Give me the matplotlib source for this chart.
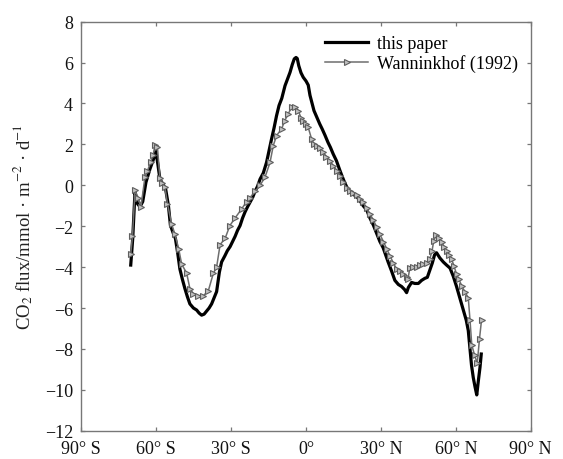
import matplotlib
matplotlib.use("Agg")
import matplotlib.pyplot as plt

# "this paper" curve
lat_this = [-70.2, -69.4, -68.5, -67.5, -66.5, -65.4, -64.1, -62.5, -61.3, -60.1,
            -59.3, -58.5, -57.3, -56.2, -55.1, -54.3, -53.3, -52.3, -51.4, -50.5,
            -49.5, -48.5, -47.5, -46.5, -45.1, -43.8, -42.8, -41.8, -40.8, -39.8,
            -38.8, -37.8, -36.8, -35.8, -34.7, -33.8, -32.5, -31.5, -30.4, -29.4,
            -28.4, -27.4, -26.4, -25.4, -24.4, -23.4, -22.4, -21.4, -20.4, -19.4,
            -18.4, -17.1, -15.8, -14.8, -13.8, -12.8, -11.8, -10.8, -9.7, -8.4,
            -7.4, -6.4, -5.5, -4.7, -4.0, -3.5, -2.9, -2.0, -1.1, 0.0,
            0.9, 1.6, 2.25, 3.2, 4.26, 5.5, 6.5, 7.6, 8.8, 9.8,
            10.9, 12.2, 13.6, 14.6, 15.6, 16.6, 17.6, 19.0, 20.3, 21.6,
            22.9, 24.3, 25.6, 27.0, 28.3, 29.6, 30.9, 31.6, 32.9, 34.3,
            35.6, 37.0, 38.3, 39.5, 40.3, 41.0, 42.3, 43.6, 45.0, 46.3,
            47.6, 48.6, 49.6, 50.6, 51.5, 52.3, 53.6, 55.0, 56.3, 57.7,
            59.0, 60.3, 61.6, 63.0, 64.2, 65.0, 65.7, 66.3, 67.0, 67.7,
            68.4, 69.0, 69.7, 70.2]
flux_this = [-3.9, -2.6, -0.35, -0.9, -1.05, -0.8, 0.15, 0.8, 1.2, 1.65,
             1.0, 0.3, 0.05, -0.2, -1.0, -1.95, -2.3, -2.6, -3.3, -4.1,
             -4.6, -5.05, -5.45, -5.8, -6.0, -6.1, -6.25, -6.35, -6.3, -6.15,
             -6.0, -5.8, -5.5, -5.2, -4.25, -3.75, -3.45, -3.2, -3.0, -2.75,
             -2.5, -2.2, -1.97, -1.6, -1.3, -1.05, -0.83, -0.6, -0.3, -0.05,
             0.3, 0.6, 1.12, 1.7, 2.26, 2.8, 3.4, 3.9, 4.25, 4.87,
             5.2, 5.52, 5.9, 6.18, 6.25, 6.2, 5.85, 5.5, 5.28, 5.1,
             4.9, 4.4, 4.1, 3.65, 3.35, 3.0, 2.75, 2.45, 2.1, 1.85,
             1.53, 1.2, 0.72, 0.4, 0.1, -0.15, -0.3, -0.45, -0.55, -0.75,
             -1.0, -1.2, -1.6, -1.95, -2.35, -2.75, -3.05, -3.3, -3.75, -4.2,
             -4.65, -4.85, -4.95, -5.1, -5.25, -5.0, -4.75, -4.8, -4.8, -4.65,
             -4.55, -4.5, -4.15, -3.8, -3.4, -3.3, -3.55, -3.75, -3.9, -4.05,
             -4.45, -4.95, -5.5, -6.1, -6.6, -7.1, -8.0, -8.8, -9.4, -9.85,
             -10.25, -9.6, -8.9, -8.25]

# Wanninkhof (1992) curve
lat_wan = [-70.2, -69.5, -68.5, -67.2, -66.1, -64.5, -63.5, -62.2, -61.2, -60.5,
           -59.5, -58.5, -57.5, -56.5, -55.5, -53.8, -52.5, -51.0, -49.8, -47.8,
           -46.5, -45.1, -43.1, -41.1, -39.1, -37.1, -35.8, -34.4, -32.4, -30.5,
           -28.4, -25.8, -23.8, -22.4, -20.4, -18.4, -16.4, -14.4, -13.1, -11.8,
           -9.8, -8.5, -7.1, -5.75, -4.4, -3.1, -2.0, -1.1, 0.0, 0.9,
           2.25, 3.3, 4.26, 5.5, 6.9, 8.2, 9.6, 11.0, 12.3, 13.6,
           14.9, 16.3, 17.6, 19.0, 20.3, 21.6, 22.9, 24.3, 25.6, 27.0,
           28.3, 29.6, 31.0, 32.3, 33.6, 35.0, 36.3, 37.6, 39.0, 40.3,
           40.8, 41.6, 43.0, 44.3, 45.6, 47.0, 48.3, 49.6, 50.5, 51.2,
           52.1, 53.2, 54.3, 55.3, 56.3, 57.3, 58.3, 59.3, 60.3, 61.3,
           62.3, 63.6, 65.0, 65.7, 66.4, 67.5, 68.6, 69.5, 70.3]
flux_wan = [-3.35, -2.5, -0.25, -0.6, -1.05, 0.4, 0.7, 1.15, 1.5, 1.95,
            1.85, 0.35, 0.1, -0.1, -0.9, -1.9, -2.4, -3.1, -3.85, -4.3,
            -5.05, -5.3, -5.4, -5.4, -5.15, -4.3, -4.0, -2.9, -2.6, -1.97,
            -1.6, -1.16, -0.8, -0.6, -0.3, 0.0, 0.4, 1.12, 1.94, 2.43,
            2.75, 3.16, 3.5, 3.81, 3.85, 3.65, 3.3, 3.16, 3.0, 2.83,
            2.26, 2.0, 1.94, 1.8, 1.61, 1.4, 1.2, 0.95, 0.72, 0.45,
            0.14, -0.15, -0.26, -0.4, -0.48, -0.65, -0.83, -1.1, -1.4, -1.7,
            -2.05, -2.4, -2.75, -3.1, -3.44, -3.8, -4.1, -4.2, -4.34, -4.5,
            -4.6, -4.05, -4.0, -4.0, -3.9, -3.85, -3.8, -3.6, -3.2, -2.7,
            -2.45, -2.6, -2.75, -3.0, -3.2, -3.4, -3.6, -3.95, -4.35, -4.6,
            -4.9, -5.2, -5.5, -6.6, -7.8, -8.3, -8.7, -7.5, -6.6]

xtick_vals = [-90, -60, -30, 0, 30, 60, 90]
xtick_labels = ["90° S", "60° S", "30° S", "0°", "30° N", "60° N", "90° N"]
ytick_vals = [-12, -10, -8, -6, -4, -2, 0, 2, 4, 6, 8]

plt.rcParams['font.family'] = ['Liberation Serif', 'DejaVu Serif']
plt.rcParams['mathtext.fontset'] = 'stix'

fig = plt.figure(figsize=(5.63, 4.60), dpi=100)
ax = fig.add_axes([0.1444, 0.0615, 0.7982, 0.8892])

ax.plot(lat_this, flux_this, color='black', lw=2.3, label='this paper', zorder=3)
ax.plot(lat_wan, flux_wan, color='#6e6e6e', lw=1.1, marker='>', ms=5,
        mfc='#c0c0c0', mec='#5e5e5e', mew=0.8, label='Wanninkhof (1992)', zorder=4)

ax.set_xlim(-90, 90)
ax.set_ylim(-12, 8)
ax.set_xticks(xtick_vals)
ax.set_xticklabels(xtick_labels)
ax.set_yticks(ytick_vals)

for s in ax.spines.values():
    s.set_color('#777777')
    s.set_linewidth(1.0)
ax.tick_params(direction='in', length=3, width=0.9, color='#777777',
               top=True, right=True, labelsize=13, labelcolor='#111111')
ax.tick_params(axis='x', pad=7)
ax.tick_params(axis='y', pad=6)

ax.set_ylabel(r'CO$_2$ flux/mmol · m$^{-2}$ · d$^{-1}$', fontsize=13.5, color='#222222',
              labelpad=7)

leg = ax.legend(loc='upper left', bbox_to_anchor=(325 / 563, 1 - 36 / 460),
                bbox_transform=fig.transFigure, frameon=False, fontsize=13,
                handlelength=2.4, handletextpad=0.5, labelspacing=0.12,
                borderpad=0, borderaxespad=0)

fig.savefig('out.png', dpi=100)
